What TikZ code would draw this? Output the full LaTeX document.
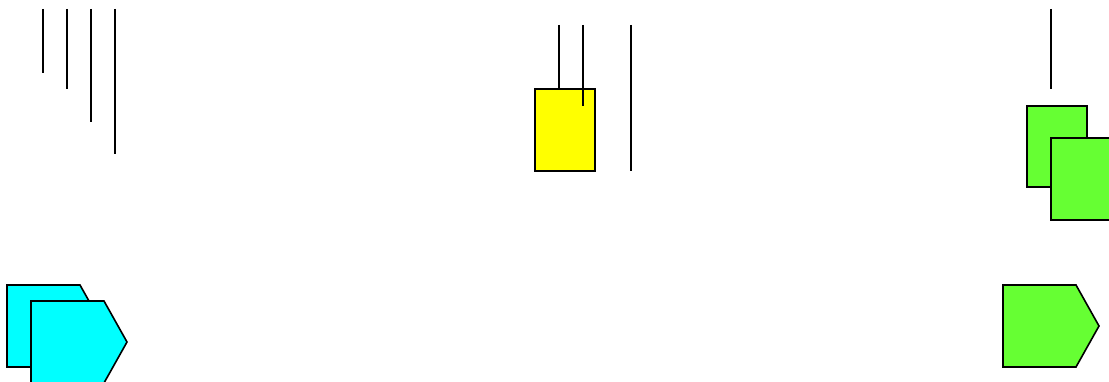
\documentclass[tikz,border=0pt]{standalone}
\usepackage{xcolor}
\usepackage{tikz}
\usetikzlibrary{positioning}
\definecolor{tagcyan}{RGB}{0,255,255}
\definecolor{taggreen}{RGB}{102,255,51}
\definecolor{taskyellow}{RGB}{255,255,0}

\begin{document}
\begin{tikzpicture}[x=1pt,y=-1pt,
  tick/.style={line width=1.3pt},
  shp/.style={draw,line width=1.6pt,line join=miter}]
  \useasboundingbox (0,0) rectangle (1109,382);
  \clip (0,0) rectangle (1109,382);
  \begin{scope}
    \foreach \x/\y in {43/73,67/89,91/122,115/154} \draw[tick] (\x,9)--(\x,\y);
    \draw[shp,fill=tagcyan] (7,285)--(80,285)--(103,326)--(80,367)--(7,367)--cycle;
    \draw[shp,fill=tagcyan] (31,301)--(104,301)--(127,342)--(104,383)--(31,383)--cycle;
  \end{scope}
  \begin{scope}
    \draw[shp,fill=taskyellow] (535,89) rectangle (595,171);
    \draw[tick] (559,25)--(559,89);
    \draw[tick] (583,25)--(583,106);
    \draw[tick] (631,25)--(631,171);
  \end{scope}
  \begin{scope}
    \draw[tick] (1051,9)--(1051,89);
    \draw[shp,fill=taggreen] (1027,106) rectangle (1087,187);
    \draw[shp,fill=taggreen] (1051,138) rectangle (1111,220);
    \draw[shp,fill=taggreen] (1003,285)--(1076,285)--(1099,326)--(1076,367)--(1003,367)--cycle;
  \end{scope}
\end{tikzpicture}
\end{document}
